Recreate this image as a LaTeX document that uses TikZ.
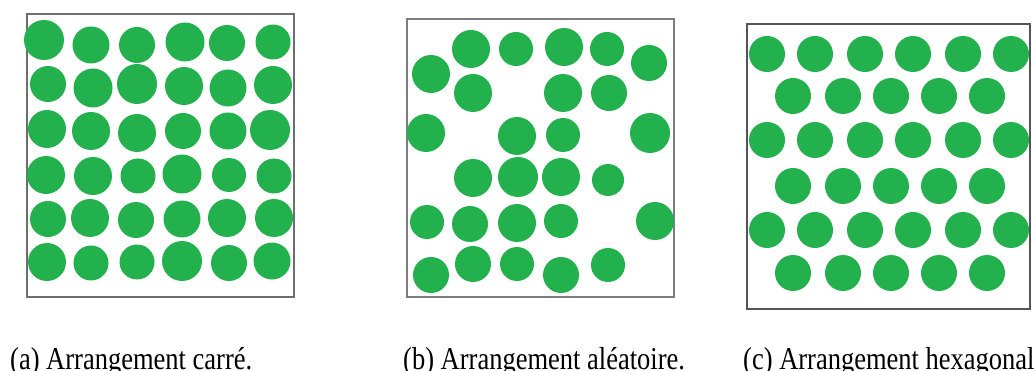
\documentclass[tikz,border=0pt]{standalone}
\usepackage{fontspec}
\setmainfont{Liberation Serif}
\definecolor{dotgreen}{RGB}{34,177,76}
\definecolor{frameA}{RGB}{110,110,110}
\definecolor{frameB}{RGB}{125,125,125}
\definecolor{frameC}{RGB}{85,85,85}
\begin{document}
\begin{tikzpicture}[x=1pt,y=-1pt,
  dot/.style={fill=dotgreen},
  framebox/.style={line width=1.2pt},
  captext/.style={anchor=base west,inner sep=0pt,yscale=1.2,font=\fontsize{26.5}{30}\selectfont}]
\useasboundingbox (0,0) rectangle (1035,371);
\fill[white] (0,0) rectangle (1035,371);
% panel (a)
\draw[framebox,frameA] (27,14) rectangle (294,297);
\foreach \x/\y/\r in {
 44/40/20, 91/45/18.5, 137/45/18, 185/42/19.5, 227/43/18, 273/42/17.5,
 48/84/18, 93/88/19.5, 137/84/20, 184/86/19, 228/88/18.5, 273/85/19,
 47/129/19, 91/131/19, 137/133/19, 183/131/18, 228/131/18.5, 270/130/20,
 46/175/19, 93/176/19, 138/176/17.5, 182/174/19.5, 229/175/17, 274/176/17.5,
 48/219/18, 90/218/19, 136/220/18, 182/219/18.5, 227/218/19, 274/218/19,
 47/262/19, 91/263/17.5, 137/262/17.5, 182/261/20, 229/263/18, 272/261/18.5}
  \fill[dot] (\x,\y) circle[radius=\r pt];
% panel (b)
\draw[framebox,frameB] (407,19) rectangle (674,297);
\foreach \x/\y/\r in {
 471/49/19, 516/49/17, 564/47/19, 607/49/17, 649/63/18,
 431/74/19, 473/93/19, 563/93/19, 609/93/18,
 426/133/19, 517/136/19, 563/135/17, 650/133/20,
 473/178/19, 518/177/20, 561/177/19, 608/180/16,
 427/222/17, 470/224/18, 517/223/19, 561/221/17, 655/221/19,
 431/275/18, 473/264/18, 517/264/17, 561/275/18, 608/265/17}
  \fill[dot] (\x,\y) circle[radius=\r pt];
% panel (c)
\draw[framebox,frameC] (747,24) rectangle (1030,309);
\foreach \y in {54,140,230}
  \foreach \x in {767,815,865,913,963,1011}
    \fill[dot] (\x,\y) circle[radius=18pt];
\foreach \y in {96,186,273}
  \foreach \x in {793,843,891,939,987}
    \fill[dot] (\x,\y) circle[radius=18pt];
% captions
\node[captext] (capa) at (10,369) {(a) Arrangement carré.};
\node[captext] (capb) at (403,369) {(b) Arrangement aléatoire.};
\node[captext] (capc) at (743,369) {(c) Arrangement hexagonal};
\end{tikzpicture}
\end{document}
